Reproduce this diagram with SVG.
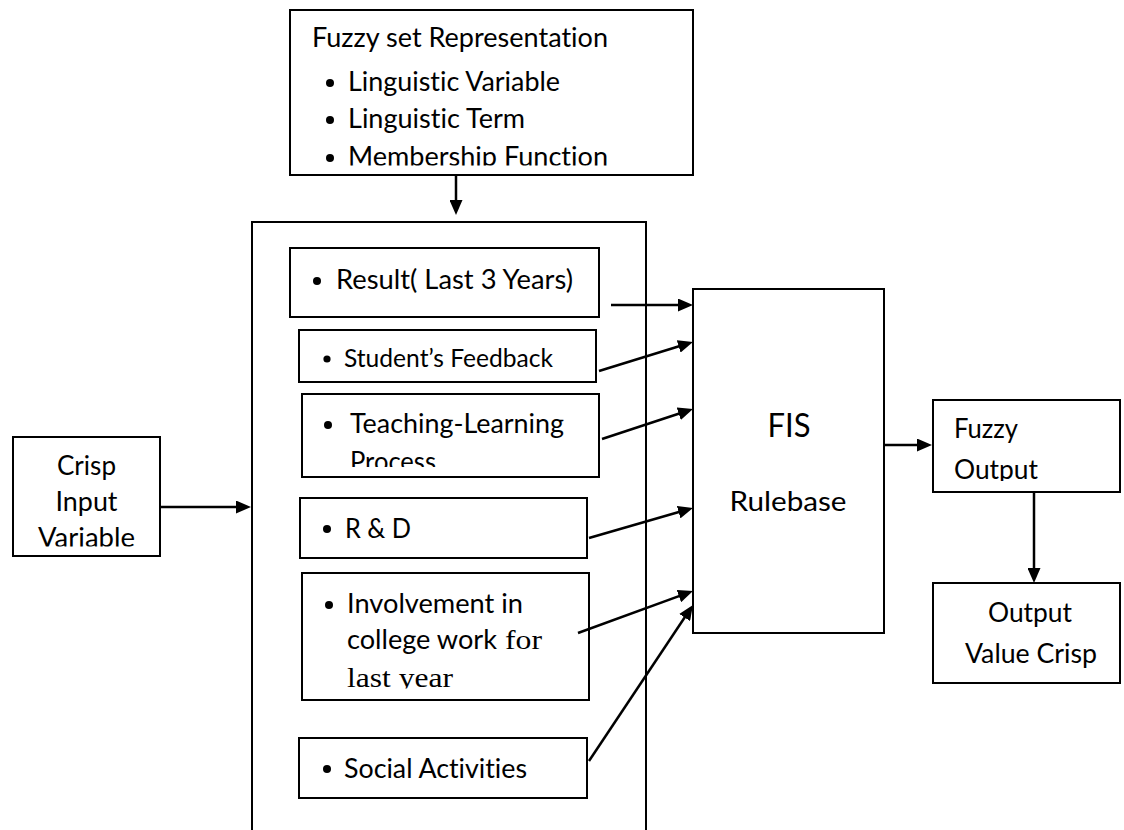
<svg xmlns="http://www.w3.org/2000/svg" width="1124" height="830" viewBox="0 0 1124 830">
<style>
.box{fill:#fff;stroke:#000;stroke-width:2}
.t{font-family:Lato,"Open Sans","Liberation Sans",sans-serif;font-size:27px;fill:#000;font-variant-ligatures:none}
.s{font-family:"Liberation Serif","Times New Roman",serif;font-size:28px;fill:#000}
.c{text-anchor:middle}
.b{fill:#000}
.conn{stroke:#000;stroke-width:2.5;fill:none;marker-end:url(#ah)}
</style>
<defs>
<marker id="ah" markerUnits="userSpaceOnUse" markerWidth="15" markerHeight="13" refX="3" refY="6.5" orient="auto">
<path d="M0,0 L15,6.5 L0,13 z" fill="#000"/>
</marker>
<clipPath id="cMem"><rect x="290" y="10" width="403" height="155.5"/></clipPath>
<clipPath id="cProc"><rect x="302" y="394" width="297" height="73"/></clipPath>
<clipPath id="cLast"><rect x="302" y="573" width="287" height="115.5"/></clipPath>
<clipPath id="cVar"><rect x="12" y="437" width="148" height="109.5"/></clipPath>
<clipPath id="cOut"><rect x="933" y="400" width="187" height="81"/></clipPath>
</defs>
<rect width="1124" height="830" fill="#fff"/>

<g id="fuzzy-set">
<rect class="box" x="290" y="10" width="403" height="165"/>
<text class="t" x="312" y="47" textLength="296" lengthAdjust="spacingAndGlyphs">Fuzzy set Representation</text>
<circle class="b" cx="330" cy="83" r="4"/>
<text class="t" x="348" y="91" textLength="212" lengthAdjust="spacingAndGlyphs">Linguistic Variable</text>
<circle class="b" cx="330" cy="120" r="4"/>
<text class="t" x="348" y="128" textLength="177" lengthAdjust="spacingAndGlyphs">Linguistic Term</text>
<g clip-path="url(#cMem)">
<circle class="b" cx="330" cy="158" r="4"/>
<text class="t" x="348" y="166" textLength="260" lengthAdjust="spacingAndGlyphs">Membership Function</text>
</g>
</g>

<g id="inputs-container">
<rect class="box" x="252" y="222" width="394" height="700"/>
</g>

<g id="result">
<rect class="box" x="290" y="248" width="309" height="69"/>
<circle class="b" cx="317" cy="281" r="4"/>
<text class="t" x="336" y="289" textLength="237" lengthAdjust="spacingAndGlyphs">Result( Last 3 Years)</text>
</g>

<g id="feedback">
<rect class="box" x="299" y="330" width="297" height="52"/>
<circle class="b" cx="327" cy="359" r="3.6"/>
<text class="t" x="344" y="367" style="font-size:25px" textLength="209" lengthAdjust="spacingAndGlyphs">Student’s Feedback</text>
</g>

<g id="teaching">
<rect class="box" x="302" y="394" width="297" height="83"/>
<circle class="b" cx="328" cy="425" r="4"/>
<text class="t" x="350" y="433" textLength="214" lengthAdjust="spacingAndGlyphs">Teaching-Learning</text>
<text class="t" x="350" y="471" clip-path="url(#cProc)" textLength="86" lengthAdjust="spacingAndGlyphs">Process</text>
</g>

<g id="rnd">
<rect class="box" x="300" y="498" width="287" height="60"/>
<circle class="b" cx="327" cy="529" r="4"/>
<text class="t" x="345" y="538" textLength="66" lengthAdjust="spacingAndGlyphs">R &amp; D</text>
</g>

<g id="involvement">
<rect class="box" x="302" y="573" width="287" height="127"/>
<circle class="b" cx="329" cy="605" r="4"/>
<text class="t" x="347" y="613" textLength="176" lengthAdjust="spacingAndGlyphs">Involvement in</text>
<text class="t" x="347" y="649" textLength="150" lengthAdjust="spacingAndGlyphs">college work</text>
<text class="s" x="505" y="649" textLength="37" lengthAdjust="spacingAndGlyphs">for</text>
<text class="s" x="347" y="687" clip-path="url(#cLast)" textLength="106" lengthAdjust="spacingAndGlyphs">last year</text>
</g>

<g id="social">
<rect class="box" x="299" y="738" width="288" height="60"/>
<circle class="b" cx="327" cy="769" r="4"/>
<text class="t" x="344" y="778" textLength="183" lengthAdjust="spacingAndGlyphs">Social Activities</text>
</g>

<g id="crisp-input">
<rect class="box" x="13" y="437" width="147" height="119"/>
<text class="t c" x="86.5" y="475" textLength="59" lengthAdjust="spacingAndGlyphs">Crisp</text>
<text class="t c" x="86.5" y="511" textLength="62" lengthAdjust="spacingAndGlyphs">Input</text>
<text class="t c" x="86.5" y="547" clip-path="url(#cVar)" textLength="97" lengthAdjust="spacingAndGlyphs">Variable</text>
</g>

<g id="fis">
<rect class="box" x="693" y="289" width="191" height="344"/>
<text class="t c" x="789" y="437" style="font-size:33px" textLength="43" lengthAdjust="spacingAndGlyphs">FIS</text>
<text class="t c" x="788" y="511" textLength="117" lengthAdjust="spacingAndGlyphs">Rulebase</text>
</g>

<g id="fuzzy-output">
<rect class="box" x="933" y="400" width="187" height="92"/>
<text class="t" x="954" y="438" textLength="64" lengthAdjust="spacingAndGlyphs">Fuzzy</text>
<text class="t" x="954" y="479" clip-path="url(#cOut)" textLength="84" lengthAdjust="spacingAndGlyphs">Output</text>
</g>

<g id="output-crisp">
<rect class="box" x="933" y="583" width="187" height="100"/>
<text class="t c" x="1030" y="622" textLength="84" lengthAdjust="spacingAndGlyphs">Output</text>
<text class="t c" x="1031" y="663" textLength="132" lengthAdjust="spacingAndGlyphs">Value Crisp</text>
</g>

<g id="connectors">
<line class="conn" x1="456" y1="175" x2="456" y2="203"/>
<line class="conn" x1="160" y1="507" x2="239" y2="507"/>
<line class="conn" x1="611" y1="305" x2="681" y2="305"/>
<line class="conn" x1="599" y1="371" x2="681.5" y2="345.5"/>
<line class="conn" x1="602" y1="439" x2="681.6" y2="412.8"/>
<line class="conn" x1="589" y1="538" x2="681.5" y2="511.3"/>
<line class="conn" x1="578" y1="633" x2="681.7" y2="595.1"/>
<line class="conn" x1="589" y1="761" x2="686.3" y2="615"/>
<line class="conn" x1="884" y1="445" x2="920" y2="445"/>
<line class="conn" x1="1034" y1="492" x2="1034" y2="571"/>
</g>
</svg>
